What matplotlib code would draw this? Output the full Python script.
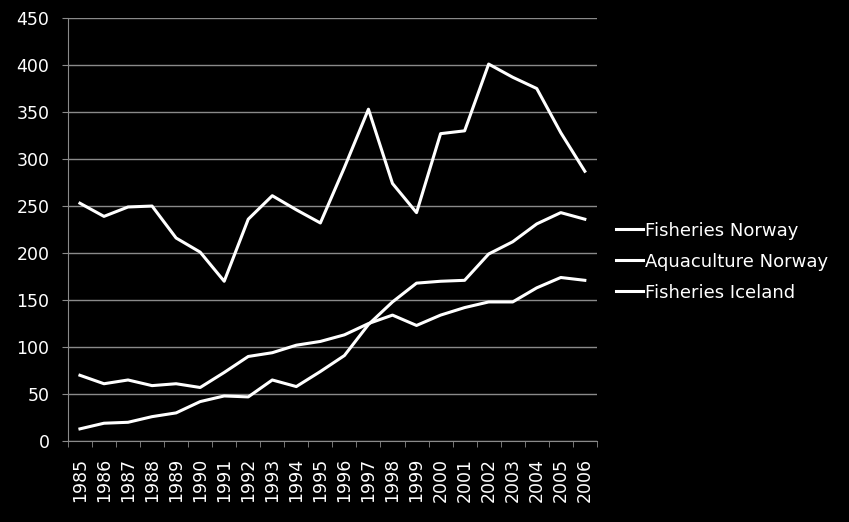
import matplotlib
matplotlib.use('Agg')
import matplotlib.pyplot as plt
import numpy as np

years = [str(y) for y in range(1985, 2007)]
fisheries_norway = [253, 239, 249, 250, 216, 201, 170, 236, 261, 246, 232, 291,
                    353, 274, 243, 327, 330, 401, 387, 375, 328, 287]
aquaculture_norway = [13, 19, 20, 26, 30, 42, 48, 47, 65, 58, 74, 91,
                      124, 148, 168, 170, 171, 199, 212, 231, 243, 236]
fisheries_iceland = [70, 61, 65, 59, 61, 57, 73, 90, 94, 102, 106, 113,
                     125, 134, 123, 134, 142, 148, 148, 163, 174, 171]

fig = plt.figure(figsize=(8.49, 5.22), dpi=100, facecolor='black')
ax = fig.add_axes([0.080, 0.155, 0.623, 0.8105], facecolor='black')

x = np.arange(len(years))
for vals, name in [(fisheries_norway, 'Fisheries Norway'),
                   (aquaculture_norway, 'Aquaculture Norway'),
                   (fisheries_iceland, 'Fisheries Iceland')]:
    ax.plot(x, vals, color='white', lw=2.2, label=name, zorder=3)

ax.set_xlim(-0.5, len(years) - 0.5)
ax.set_ylim(0, 450)
ax.set_yticks(range(0, 451, 50))
ax.grid(axis='y', color='#8a8a8a', lw=1)
ax.set_axisbelow(True)

ax.set_xticks(x)
ax.set_xticklabels(years, rotation=90, color='white', fontsize=12.5)
ax.set_xticks(np.arange(-0.5, len(years), 1), minor=True)
ax.tick_params(axis='x', which='major', length=0, pad=12)
ax.tick_params(axis='x', which='minor', length=4.3, color='#8a8a8a', direction='out')
ax.tick_params(axis='y', colors='white', labelsize=12.5, length=4.3, color='#8a8a8a', pad=9)

for s in ['top', 'right']:
    ax.spines[s].set_visible(False)
for s in ['left', 'bottom']:
    ax.spines[s].set_color('#8a8a8a')

leg = fig.legend(loc='upper left', bbox_to_anchor=(0.709, 0.603), frameon=False,
                 fontsize=13, labelcolor='white', handlelength=1.45,
                 handletextpad=0.15, labelspacing=0.72, borderpad=0.3)

fig.savefig('out.png', dpi=100, facecolor='black')
